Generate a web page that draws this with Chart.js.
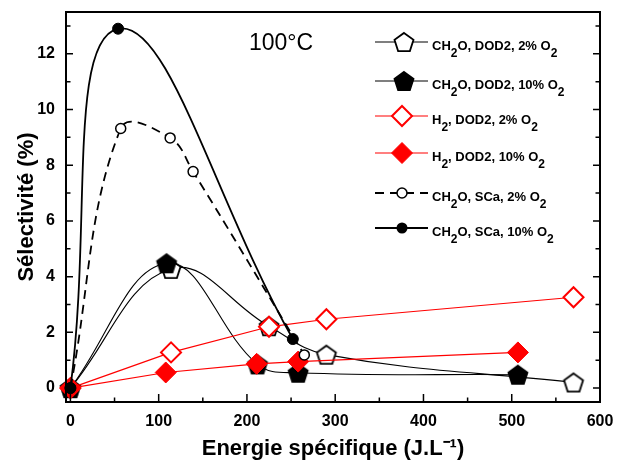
<!DOCTYPE html>
<html><head><meta charset="utf-8">
<script src="https://cdn.jsdelivr.net/npm/chart.js@4"></script>
<style>html,body{margin:0;padding:0;background:#fff}#wrap{width:622px;height:460px;position:relative}</style>
</head><body><div id="wrap"><canvas id="c"></canvas></div>
<script>
// ---- data ----
const energyCH2O_DOD2_2 = [0, 114, 225, 290, 570];
const selCH2O_DOD2_2    = [0, 4.28, 2.22, 1.2, 0.2];
const energyCH2O_DOD2_10 = [0, 109, 212, 258, 507];
const selCH2O_DOD2_10    = [0, 4.48, 0.85, 0.55, 0.48];
const energyH2_DOD2_2 = [0, 114, 225, 290, 570];
const selH2_DOD2_2    = [0, 1.28, 2.2, 2.47, 3.26];
const energyH2_DOD2_10 = [0, 108, 211, 258, 507];
const selH2_DOD2_10    = [0, 0.56, 0.87, 0.95, 1.28];
const energyCH2O_SCa_2 = [0, 57, 113, 139, 265];
const selCH2O_SCa_2    = [0, 9.32, 8.98, 7.77, 1.19];
const energyCH2O_SCa_10 = [0, 54, 252];
const selCH2O_SCa_10    = [0, 12.9, 1.76];
const xTickValues = [0, 100, 200, 300, 400, 500, 600];
const yTickValues = [0, 2, 4, 6, 8, 10, 12];
const xMinorValues = [50, 150, 250, 350, 450, 550];
const yMinorValues = [1, 3, 5, 7, 9, 11, 13];
const legendLabels = [
  [['CH',0],['2',1],['O, DOD2, 2% O',0],['2',1]],
  [['CH',0],['2',1],['O, DOD2, 10% O',0],['2',1]],
  [['H',0],['2',1],[', DOD2, 2% O',0],['2',1]],
  [['H',0],['2',1],[', DOD2, 10% O',0],['2',1]],
  [['CH',0],['2',1],['O, SCa, 2% O',0],['2',1]],
  [['CH',0],['2',1],['O, SCa, 10% O',0],['2',1]]
];
const annotationText = '100°C';
const xTitle = 'Energie spécifique (J.L⁻¹)';
const yTitle = 'Sélectivité (%)';

const FONT = "'Liberation Sans', Arial, sans-serif";
const RED = '#ff0000';

function pentagon(r, filled) {
  const lw = 1.8, s = Math.ceil(2 * r + lw + 4);
  const c = document.createElement('canvas'); c.width = s; c.height = s;
  const g = c.getContext('2d');
  const cy = s / 2 + 0.095 * r;
  g.beginPath();
  for (let i = 0; i < 5; i++) {
    const a = -Math.PI / 2 + i * 2 * Math.PI / 5;
    const px = s / 2 + r * Math.cos(a), py = cy + r * Math.sin(a);
    i ? g.lineTo(px, py) : g.moveTo(px, py);
  }
  g.closePath();
  g.fillStyle = filled ? '#000' : '#fff'; g.fill();
  g.lineWidth = lw; g.strokeStyle = '#000'; g.lineJoin = 'miter'; g.stroke();
  return c;
}
const pentOpen = pentagon(10, false);
const pentFilled = pentagon(10, true);

const mk = (xs, ys) => xs.map((x, i) => ({x: x, y: ys[i]}));

const datasets = [
  {data: mk(energyCH2O_SCa_10, selCH2O_SCa_10), borderColor:'#000', borderWidth:1.8, tension:0.45,
   pointStyle:'circle', pointRadius:5.5, pointBackgroundColor:'#000', pointBorderColor:'#000', pointBorderWidth:1, order:0},
  {data: mk(energyCH2O_SCa_2, selCH2O_SCa_2), borderColor:'#000', borderWidth:1.8, borderDash:[9,6], tension:0.4,
   pointStyle:'circle', pointRadius:5, pointBackgroundColor:'#fff', pointBorderColor:'#000', pointBorderWidth:1.5, order:1},
  {data: mk(energyH2_DOD2_10, selH2_DOD2_10), borderColor:RED, borderWidth:1.2, tension:0,
   pointStyle:'rectRot', pointRadius:10.5, pointBackgroundColor:RED, pointBorderColor:RED, pointBorderWidth:1, order:2},
  {data: mk(energyH2_DOD2_2, selH2_DOD2_2), borderColor:RED, borderWidth:1.2, tension:0,
   pointStyle:'rectRot', pointRadius:10, pointBackgroundColor:'#fff', pointBorderColor:RED, pointBorderWidth:2, order:3},
  {data: mk(energyCH2O_DOD2_10, selCH2O_DOD2_10), borderColor:'#000', borderWidth:1.1, tension:0.4,
   pointStyle:pentFilled, pointRadius:10, order:4},
  {data: mk(energyCH2O_DOD2_2, selCH2O_DOD2_2), borderColor:'#000', borderWidth:1.1, tension:0.4,
   pointStyle:pentOpen, pointRadius:10, order:5}
];
datasets.forEach(d => { d.clip = false; d.fill = false; d.pointHoverRadius = d.pointRadius; });

function drawDiamond(ctx, x, y, r, fill, stroke, lw) {
  ctx.beginPath();
  ctx.moveTo(x - r, y); ctx.lineTo(x, y - r); ctx.lineTo(x + r, y); ctx.lineTo(x, y + r); ctx.closePath();
  ctx.fillStyle = fill; ctx.fill();
  ctx.lineWidth = lw; ctx.strokeStyle = stroke; ctx.stroke();
}

const decor = {
  id: 'decor',
  afterDatasetsDraw(chart) {
    const {ctx, chartArea: a, scales: {x, y}} = chart;
    ctx.save();
    // inward ticks
    ctx.strokeStyle = '#000'; ctx.lineWidth = 1.5; ctx.setLineDash([]);
    ctx.beginPath();
    xTickValues.forEach(v => { const p = x.getPixelForValue(v); ctx.moveTo(p, a.bottom); ctx.lineTo(p, a.bottom - 8); });
    xMinorValues.forEach(v => { const p = x.getPixelForValue(v); ctx.moveTo(p, a.bottom); ctx.lineTo(p, a.bottom - 4.5); });
    yTickValues.forEach(v => { const p = y.getPixelForValue(v);
      ctx.moveTo(a.left, p); ctx.lineTo(a.left + 7, p); ctx.moveTo(a.right, p); ctx.lineTo(a.right - 7, p); });
    yMinorValues.forEach(v => { const p = y.getPixelForValue(v);
      ctx.moveTo(a.left, p); ctx.lineTo(a.left + 4.5, p); ctx.moveTo(a.right, p); ctx.lineTo(a.right - 4.5, p); });
    ctx.stroke();
    // frame
    ctx.lineWidth = 2;
    ctx.strokeRect(a.left, a.top, a.right - a.left, a.bottom - a.top);
    // annotation
    ctx.fillStyle = '#000';
    ctx.font = '23px ' + FONT;
    ctx.textAlign = 'center'; ctx.textBaseline = 'alphabetic';
    ctx.fillText(annotationText, 281, 50);
    // legend
    const ys = [42, 81, 116, 153, 193, 228];
    const x0 = 375, x1 = 428, xm = 402;
    ys.forEach((ly, i) => {
      ctx.setLineDash([]);
      if (i === 0 || i === 1) {
        ctx.strokeStyle = '#000'; ctx.lineWidth = 1.2;
        ctx.beginPath(); ctx.moveTo(x0, ly); ctx.lineTo(x1, ly); ctx.stroke();
        const img = i === 0 ? pentOpen : pentFilled;
        ctx.drawImage(img, xm + 2 - img.width / 2, ly - img.height / 2);
      } else if (i === 2 || i === 3) {
        ctx.strokeStyle = RED; ctx.lineWidth = 1.2;
        ctx.beginPath(); ctx.moveTo(x0, ly); ctx.lineTo(x1, ly); ctx.stroke();
        if (i === 2) drawDiamond(ctx, xm, ly, 10, '#fff', RED, 2);
        else drawDiamond(ctx, xm, ly, 10.5, RED, RED, 1);
      } else if (i === 4) {
        ctx.strokeStyle = '#000'; ctx.lineWidth = 1.8; ctx.setLineDash([9, 6]);
        ctx.beginPath(); ctx.moveTo(x0, ly); ctx.lineTo(x1, ly); ctx.stroke();
        ctx.setLineDash([]);
        ctx.beginPath(); ctx.arc(xm, ly, 5, 0, Math.PI * 2);
        ctx.fillStyle = '#fff'; ctx.fill(); ctx.lineWidth = 1.5; ctx.strokeStyle = '#000'; ctx.stroke();
      } else {
        ctx.strokeStyle = '#000'; ctx.lineWidth = 2;
        ctx.beginPath(); ctx.moveTo(x0, ly); ctx.lineTo(x1, ly); ctx.stroke();
        ctx.beginPath(); ctx.arc(xm, ly, 5.5, 0, Math.PI * 2);
        ctx.fillStyle = '#000'; ctx.fill();
      }
      // text with subscripts
      let tx = 432; const base = ly + 7.5;
      ctx.fillStyle = '#000'; ctx.textAlign = 'left'; ctx.textBaseline = 'alphabetic';
      legendLabels[i].forEach(([t, sub]) => {
        ctx.font = 'bold ' + (sub ? 12 : 13) + 'px ' + FONT;
        ctx.fillText(t, tx, sub ? base + 7 : base);
        tx += ctx.measureText(t).width;
      });
    });
    ctx.restore();
  }
};

new Chart(document.getElementById('c'), {
  type: 'line',
  data: {datasets: datasets},
  options: {
    responsive: true, maintainAspectRatio: false, animation: false,
    layout: {padding: {left: 0, right: 22, top: 12, bottom: 0}},
    plugins: {legend: {display: false}, tooltip: {enabled: false}},
    elements: {line: {capBezierPoints: true}},
    scales: {
      x: {
        type: 'linear', min: -5, max: 600,
        afterBuildTicks: s => { s.ticks = xTickValues.map(v => ({value: v})); },
        afterFit: s => { s.height = 58; s.paddingLeft = 0; s.paddingRight = 0; },
        grid: {display: false, drawTicks: false}, border: {display: false},
        ticks: {color: '#000', font: {family: FONT, weight: 'bold', size: 16}, padding: 10, maxRotation: 0, autoSkip: false},
        title: {display: true, text: xTitle, color: '#000', font: {family: FONT, weight: 'bold', size: 22, lineHeight: 1.0}, padding: {top: 0, bottom: 0}}
      },
      y: {
        type: 'linear', min: -0.5, max: 13.5,
        afterBuildTicks: s => { s.ticks = yTickValues.map(v => ({value: v})); },
        afterFit: s => { s.width = 66; s.paddingTop = 0; s.paddingBottom = 0; },
        grid: {display: false, drawTicks: false}, border: {display: false},
        ticks: {color: '#000', font: {family: FONT, weight: 'bold', size: 16}, padding: 11, autoSkip: false},
        title: {display: true, text: yTitle, color: '#000', font: {family: FONT, weight: 'bold', size: 22}, padding: {top: 14, bottom: 0}}
      }
    }
  },
  plugins: [decor]
});
</script>
</body></html>
